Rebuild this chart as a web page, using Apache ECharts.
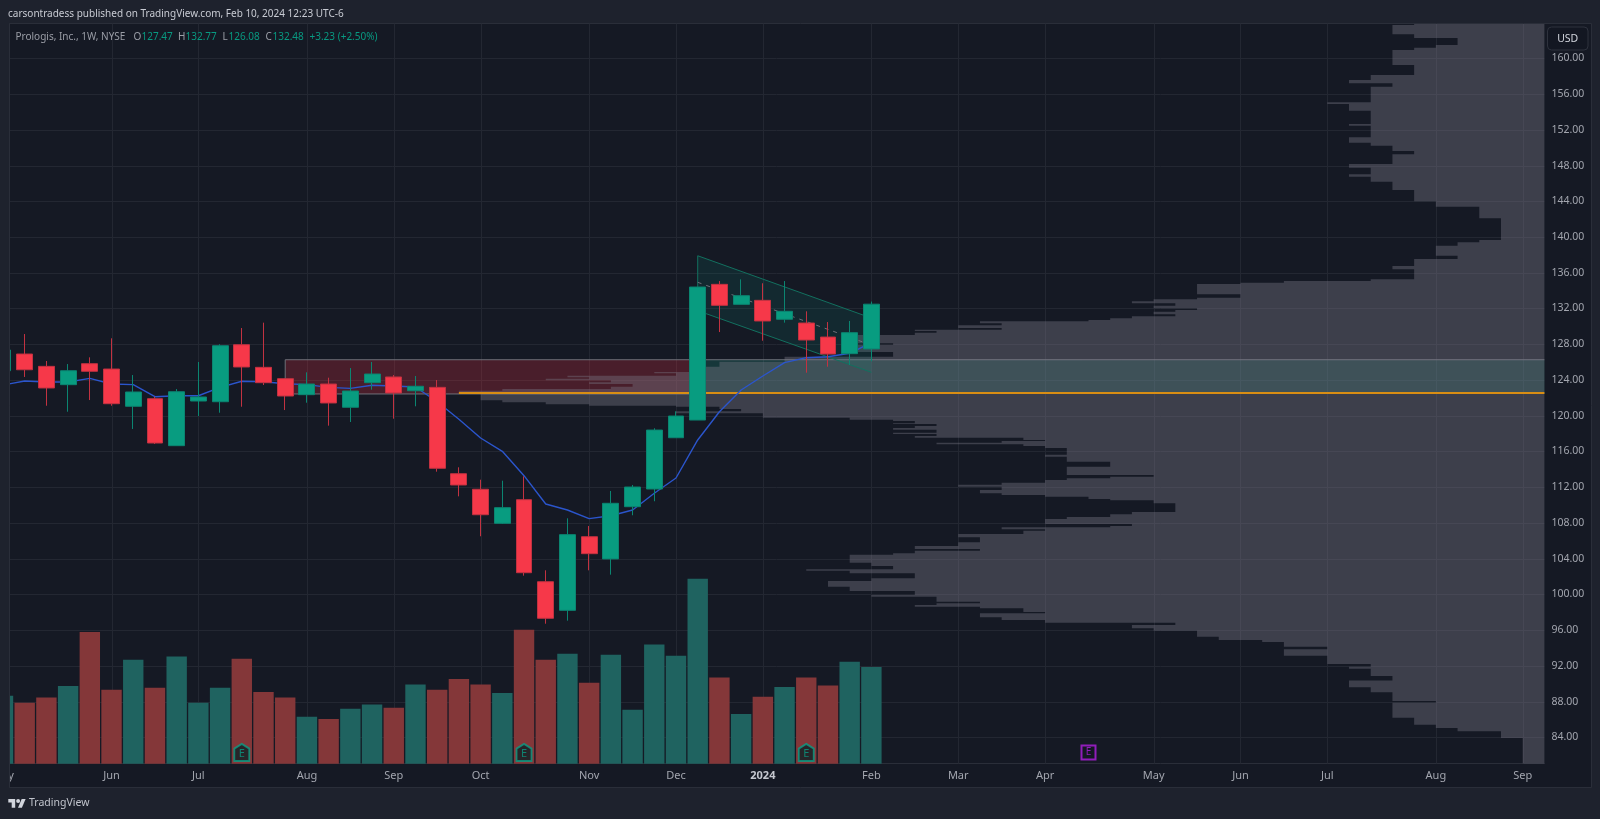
<!DOCTYPE html>
<html><head><meta charset="utf-8">
<style>html,body{margin:0;padding:0;background:#1e222d}#c{width:1600px;height:819px}</style>
<script src="https://cdn.jsdelivr.net/npm/echarts@6/dist/echarts.min.js"></script>
</head><body><div id="c"></div>
<script>
// ---- weekly bars (index 0 = first fully visible week) ----
const barIndex = [-1,0,1,2,3,4,5,6,7,8,9,10,11,12,13,14,15,16,17,18,19,20,21,22,23,24,25,26,27,28,29,30,31,32,33,34,35,36,37,38,39];
const opens  = [125.03,126.90,125.52,123.47,125.82,125.22,121.05,121.90,116.64,121.64,121.56,127.94,125.41,124.14,122.35,123.54,120.94,123.69,124.33,122.79,123.17,113.50,111.76,107.95,110.59,101.41,98.21,106.45,103.96,109.81,111.79,117.53,119.51,134.70,132.46,132.91,130.79,130.37,128.80,126.94,127.47];
const closes = [127.35,125.14,123.10,125.03,124.97,121.34,122.65,116.94,122.68,122.09,127.83,125.45,123.69,122.20,123.54,121.42,122.76,124.66,122.54,123.29,114.11,112.24,108.91,109.70,102.42,97.32,106.68,104.55,110.19,112.01,118.39,119.96,134.40,132.35,133.43,130.60,131.68,128.47,126.90,129.29,132.48];
const lows   = [124.60,124.33,121.11,120.44,121.75,121.11,118.51,116.83,116.64,119.96,120.33,121.00,123.43,120.63,121.45,118.88,119.29,122.91,119.66,121.05,113.73,110.97,106.50,107.87,102.09,96.71,97.05,102.69,102.20,108.85,110.42,117.53,119.51,129.36,132.46,128.39,130.41,124.81,125.48,125.67,126.08];
const highs  = [127.40,129.14,126.12,125.78,126.53,128.66,124.55,122.12,122.98,126.01,127.99,129.81,130.41,124.20,124.85,124.25,125.33,126.01,124.55,124.44,123.99,114.22,112.83,112.72,113.21,102.69,108.51,107.65,111.57,112.24,118.59,120.49,134.40,135.07,135.26,134.82,135.07,131.68,130.48,130.60,132.77];
const volumes = [6.8,6.1,6.63,7.77,13.17,7.4,10.4,7.6,10.73,6.1,7.6,10.5,7.17,6.63,4.7,4.47,5.5,5.93,5.6,7.93,7.4,8.47,7.93,7.07,13.4,10.4,11.0,8.1,10.9,5.4,11.93,10.8,18.5,8.63,4.97,6.7,7.67,8.63,7.83,10.2,9.67];
const volumeDown = [0,1,1,0,1,1,0,1,0,0,0,1,1,1,0,1,0,0,1,0,1,1,1,0,1,1,0,1,0,0,0,0,0,1,0,1,0,1,1,0,0];
const maValues = [123.43,123.88,123.77,123.77,124.18,123.54,123.47,122.12,122.23,122.23,123.17,123.85,123.80,123.58,123.47,123.17,123.06,123.40,123.32,123.21,121.56,119.59,117.50,116.01,113.28,110.11,109.44,108.47,108.80,109.44,111.31,113.02,117.28,120.44,122.87,124.44,125.93,126.49,126.60,126.98,128.17];

// ---- axes ----
const monthIndex = [-1,4,8,13,17,21,26,30,34,39,43,47,52,56,60,65,69];
const monthLabels = ['May','Jun','Jul','Aug','Sep','Oct','Nov','Dec','2024','Feb','Mar','Apr','May','Jun','Jul','Aug','Sep'];
const priceTicks = [84,88,92,96,100,104,108,112,116,120,124,128,132,136,140,144,148,152,156,160];
const xMin = -0.723, xMax = 70, priceMin = 81.04, priceMax = 163.9, volumeMax = 74.02;

// ---- annotations ----
const earningsBars = [10,23,36];
const earningsPrice = 82.3;
const futureEarningsBar = 49;
const zoneStart = [12,31];
const zoneEnd = [31,70];
const zoneTop = 126.26, zoneBottom = 122.43;
const pocStart = 20, pocEnd = 70, pocPrice = 122.54;
const channelStart = 31, channelEnd = 39;
const channelUpper = [137.90,130.93];
const channelMiddle = [134.93,127.90];
const channelLower = [131.75,124.85];

// ---- volume profile: top price of each row and its length in bar widths ----
const vpPriceTops = [
163.84,163.73,162.69,162.27,161.49,161.19,160.93,159.25,158.13,157.57,
157.20,156.82,155.08,154.88,154.13,152.65,152.46,151.16,150.55,150.22,
149.62,149.25,148.17,147.75,147.02,146.75,146.19,145.26,143.99,143.39,
142.09,139.66,139.41,139.02,137.90,137.54,136.75,136.38,135.26,135.07,
134.88,134.74,133.58,133.20,133.03,132.80,132.58,132.31,132.02,131.83,
131.64,131.35,131.12,130.90,130.71,130.56,130.34,130.11,129.81,129.62,
129.48,129.29,129.03,128.10,127.91,127.13,126.60,126.04,125.48,124.89,
124.74,124.47,124.29,124.14,123.96,123.74,123.54,123.24,122.99,122.79,
122.43,121.72,121.50,121.27,121.12,121.00,120.75,120.49,120.26,119.77,
119.55,119.40,119.15,119.07,118.84,118.62,118.43,118.09,117.95,117.72,
117.53,117.28,117.17,116.97,116.80,116.60,116.38,115.63,115.41,114.85,
114.29,113.36,113.17,112.99,112.80,112.50,112.27,112.05,111.68,111.31,
111.12,110.93,110.67,110.53,110.19,109.22,108.96,108.66,108.43,107.87,
107.65,107.50,107.28,107.12,106.75,106.39,105.83,105.41,105.08,104.89,
104.59,104.44,103.54,103.17,102.80,102.65,102.36,101.80,101.49,100.86,
100.38,99.93,99.74,99.18,99.00,98.81,98.62,98.44,98.02,97.88,
97.43,97.13,96.83,96.57,96.20,95.93,95.26,94.89,94.67,94.14,
93.85,93.13,92.20,91.90,91.68,90.86,90.34,89.60,89.04,88.06,
87.87,86.19,85.41,85.04,84.67,83.92];
const vpWidths = [
6,7,6,4,5,6,7,6,8,9,
7,8,10,9,8,9,8,9,8,7,
6,7,9,8,9,8,7,6,5,3,
2,3,4,5,4,6,7,6,8,12,
14,16,14,16,18,19,17,18,16,17,
18,17,19,20,21,26,25,27,25,29,
28,29,32,30,32,30,35,38,39,41,
40,45,44,46,43,44,42,43,48,50,
49,48,46,44,40,38,37,40,36,32,
30,29,30,28,29,30,28,30,28,29,
24,23,25,28,24,23,22,23,22,20,
22,18,20,22,23,25,27,25,26,25,
23,21,20,18,17,19,20,22,23,19,
20,25,23,24,27,26,27,29,26,29,
30,32,31,30,34,32,29,31,33,32,
29,31,28,26,28,29,26,24,23,26,
25,23,17,19,18,16,15,13,12,10,
12,10,8,9,8,7,9,8,7,5,
7,6,5,4,2,1];

const UP='#089c80', DOWN='#f63849', UPW='#0b8571', DOWNW='#c23241';
const FONT='"Noto Sans"';
const TXT='#a3a6af';
const HEAD='10px '+FONT;

function gridSeries(){return {type:'custom',z:1,silent:true,clip:true,data:[[0,100]],renderItem(p,api){
  const kids=[];
  priceTicks.forEach(t=>{const a=api.coord([xMin,t]),b=api.coord([xMax,t]);kids.push({type:'line',shape:{x1:a[0],y1:Math.round(a[1])+.5,x2:b[0],y2:Math.round(a[1])+.5},style:{stroke:'#232732',lineWidth:1}});});
  monthIndex.forEach(t=>{const a=api.coord([t,priceMin]),b=api.coord([t,priceMax]);kids.push({type:'line',shape:{x1:Math.round(a[0])+.5,y1:a[1],x2:Math.round(a[0])+.5,y2:b[1]},style:{stroke:'#232732',lineWidth:1}});});
  return {type:'group',children:kids};}};}

function zoneSeries(){return {type:'custom',z:3,silent:true,clip:true,data:[[0,100]],renderItem(p,api){
  const a0=api.coord([zoneStart[0],zoneTop]),b0=api.coord([zoneEnd[0],zoneBottom]);
  const a1=api.coord([zoneStart[1],zoneTop]),b1=api.coord([zoneEnd[1],zoneBottom]);
  const edge='#6e7079';
  return {type:'group',children:[
    {type:'rect',shape:{x:a0[0],y:a0[1],width:b0[0]-a0[0],height:b0[1]-a0[1]},style:{fill:'rgba(230,46,65,0.25)',stroke:edge,lineWidth:1}},
    {type:'rect',shape:{x:a1[0],y:a1[1],width:b1[0]-a1[0],height:b1[1]-a1[1]},style:{fill:'rgba(32,176,152,0.2)'}},
    {type:'line',shape:{x1:a1[0],y1:a1[1],x2:b1[0],y2:a1[1]},style:{stroke:edge,lineWidth:1}}
  ]};}};}

function profileSeries(){return {type:'custom',z:4,silent:true,clip:true,data:[[0,100]],renderItem(p,api){
  const pts=[api.coord([xMax,vpPriceTops[0]])];
  vpPriceTops.forEach((top,i)=>{
    const bottom=i+1<vpPriceTops.length?vpPriceTops[i+1]:priceMin;
    pts.push(api.coord([xMax-vpWidths[i],top]));
    pts.push(api.coord([xMax-vpWidths[i],bottom]));
  });
  pts.push(api.coord([xMax,priceMin]));
  return {type:'polygon',shape:{points:pts},style:{fill:'rgba(122,121,134,0.4)'}};}};}

function pocSeries(){return {type:'custom',z:5,silent:true,clip:true,data:[[0,100]],renderItem(p,api){
  const a=api.coord([pocStart,pocPrice]),b=api.coord([pocEnd,pocPrice]);
  return {type:'line',shape:{x1:a[0],y1:a[1],x2:b[0],y2:b[1]},style:{stroke:'#d98e14',lineWidth:2}};}};}

function channelSeries(){return {type:'custom',z:6,silent:true,clip:true,data:[[0,100]],renderItem(p,api){
  const u0=api.coord([channelStart,channelUpper[0]]),u1=api.coord([channelEnd,channelUpper[1]]);
  const l0=api.coord([channelStart,channelLower[0]]),l1=api.coord([channelEnd,channelLower[1]]);
  const m0=api.coord([channelStart,channelMiddle[0]]),m1=api.coord([channelEnd,channelMiddle[1]]);
  const s='#12705f';
  return {type:'group',children:[
    {type:'polygon',shape:{points:[u0,u1,l1,l0]},style:{fill:'rgba(8,153,129,0.13)'}},
    {type:'line',shape:{x1:u0[0],y1:u0[1],x2:u1[0],y2:u1[1]},style:{stroke:s,lineWidth:1}},
    {type:'line',shape:{x1:l0[0],y1:l0[1],x2:l1[0],y2:l1[1]},style:{stroke:s,lineWidth:1}},
    {type:'line',shape:{x1:u0[0],y1:u0[1],x2:l0[0],y2:l0[1]},style:{stroke:s,lineWidth:1}},
    {type:'line',shape:{x1:m0[0],y1:m0[1],x2:m1[0],y2:m1[1]},style:{stroke:'#6e7079',lineWidth:1,lineDash:[4,5]}}
  ]};}};}

const option={
  animation:false,
  backgroundColor:'#1e222d',
  grid:{left:9,top:23.5,width:1535.4,height:740.2,show:false},
  xAxis:{type:'value',min:xMin,max:xMax,
    axisLine:{show:true,onZero:false,lineStyle:{color:'#2a2e39'}},axisTick:{show:false},splitLine:{show:false},
    axisLabel:{show:true,customValues:monthIndex,hideOverlap:false,showMinLabel:true,showMaxLabel:true,margin:7,color:TXT,fontFamily:FONT,fontSize:11,
      formatter:v=>{const l=monthLabels[monthIndex.indexOf(v)];return l==='2024'?'{b|2024}':(l||'');},
      rich:{b:{color:'#c4c7cf',fontFamily:FONT,fontSize:11,fontWeight:'bold'}}}},
  yAxis:[
    {type:'value',position:'right',min:priceMin,max:priceMax,
      axisLine:{show:false},axisTick:{show:false},splitLine:{show:false},
      axisLabel:{customValues:priceTicks,margin:7,color:TXT,fontFamily:FONT,fontSize:10.5,formatter:v=>v.toFixed(2)}},
    {type:'value',show:false,min:0,max:volumeMax,splitLine:{show:false}}
  ],
  series:[
    gridSeries(),
    {type:'bar',z:2,yAxisIndex:1,barWidth:20.4,silent:true,
      data:barIndex.map((x,i)=>({value:[x,volumes[i]],itemStyle:{color:volumeDown[i]?'#843739':'#1f6360'}}))},
    zoneSeries(),
    profileSeries(),
    pocSeries(),
    channelSeries(),
    {type:'line',z:7,silent:true,showSymbol:false,data:barIndex.map((x,i)=>[x,maValues[i]]),lineStyle:{color:'#2b55cc',width:1.4}},
    {type:'candlestick',z:8,silent:true,layout:'horizontal',barWidth:16.4,clip:true,
      itemStyle:{color:UP,color0:DOWN,borderColor:UPW,borderColor0:DOWNW,borderWidth:1},
      data:barIndex.map((x,i)=>[x,opens[i],closes[i],lows[i],highs[i]])},
    {type:'scatter',z:9,silent:true,symbol:'path://M8 0 L16 5 L16 18 L0 18 L0 5 Z',symbolSize:[15,17],
      itemStyle:{color:'#0f2026',borderColor:'#0a9c85',borderWidth:2},
      label:{show:true,position:'inside',formatter:'E',color:'#0a9c85',fontFamily:FONT,fontSize:11,offset:[0,1]},
      data:earningsBars.map(b=>[b,earningsPrice])},
    {type:'scatter',z:9,silent:true,symbol:'rect',symbolSize:14,
      itemStyle:{color:'#131722',borderColor:'#b01fe0',borderWidth:2},
      label:{show:true,position:'inside',formatter:'E',color:'#b01fe0',fontFamily:FONT,fontSize:10},
      data:[[futureEarningsBar,earningsPrice]]}
  ],
  graphic:{elements:[
    {type:'rect',z:-1,silent:true,shape:{x:9.5,y:23.5,width:1582,height:764},style:{fill:'#151924',stroke:'#2a2e39',lineWidth:1}},
    {type:'text',z:50,silent:true,x:3,y:776,style:{text:'May',fill:TXT,font:'11px '+FONT,align:'center',verticalAlign:'middle'}},
    {type:'rect',z:51,silent:true,shape:{x:0,y:23,width:9,height:772},style:{fill:'#1e222d'}},
    {type:'line',z:51,silent:true,shape:{x1:9.5,y1:23.5,x2:9.5,y2:787.5},style:{stroke:'#2a2e39',lineWidth:1}},
    {type:'text',z:50,silent:true,x:8,y:13.7,style:{text:'carsontradess published on TradingView.com, Feb 10, 2024 12:23 UTC-6',fill:'#c8cbd3',font:HEAD,verticalAlign:'middle'}},
    {type:'text',z:50,silent:true,x:15.5,y:37,style:{text:'Prologis, Inc., 1W, NYSE',fill:'#9a9da6',font:HEAD,verticalAlign:'middle'}},
    {type:'text',z:50,silent:true,x:133.5,y:37,style:{text:'O',fill:'#9a9da6',font:HEAD,verticalAlign:'middle'}},
    {type:'text',z:50,silent:true,x:141.5,y:37,style:{text:'127.47',fill:'#089981',font:HEAD,verticalAlign:'middle'}},
    {type:'text',z:50,silent:true,x:178,y:37,style:{text:'H',fill:'#9a9da6',font:HEAD,verticalAlign:'middle'}},
    {type:'text',z:50,silent:true,x:185.5,y:37,style:{text:'132.77',fill:'#089981',font:HEAD,verticalAlign:'middle'}},
    {type:'text',z:50,silent:true,x:222.5,y:37,style:{text:'L',fill:'#9a9da6',font:HEAD,verticalAlign:'middle'}},
    {type:'text',z:50,silent:true,x:228.5,y:37,style:{text:'126.08',fill:'#089981',font:HEAD,verticalAlign:'middle'}},
    {type:'text',z:50,silent:true,x:265.5,y:37,style:{text:'C',fill:'#9a9da6',font:HEAD,verticalAlign:'middle'}},
    {type:'text',z:50,silent:true,x:272.5,y:37,style:{text:'132.48',fill:'#089981',font:HEAD,verticalAlign:'middle'}},
    {type:'text',z:50,silent:true,x:309.5,y:37,style:{text:'+3.23 (+2.50%)',fill:'#089981',font:HEAD,verticalAlign:'middle'}},
    {type:'rect',z:50,silent:true,shape:{x:1547.5,y:27,width:40.5,height:23,r:4},style:{fill:'#131722',stroke:'#2e323d',lineWidth:1}},
    {type:'text',z:51,silent:true,x:1567.7,y:39,style:{text:'USD',fill:'#d1d4dc',font:'10.5px '+FONT,align:'center',verticalAlign:'middle'}},
    {type:'polygon',z:50,silent:true,shape:{points:[[8.3,799],[15.2,799],[15.2,807.7],[11.7,807.7],[11.7,802.4],[8.3,802.4]]},style:{fill:'#d1d4dc'}},
    {type:'polygon',z:50,silent:true,shape:{points:[[18,807.7],[21.7,799],[25.6,799],[21.9,807.7]]},style:{fill:'#d1d4dc'}},
    {type:'circle',z:50,silent:true,shape:{cx:18.1,cy:801,r:2},style:{fill:'#d1d4dc'}},
    {type:'text',z:50,silent:true,x:29,y:803.5,style:{text:'TradingView',fill:'#c1c4cc',font:'10.5px '+FONT,verticalAlign:'middle'}}
  ]}
};
const chart=echarts.init(document.getElementById('c'),null,{renderer:'canvas',width:1600,height:819});
chart.setOption(option);
</script></body></html>
